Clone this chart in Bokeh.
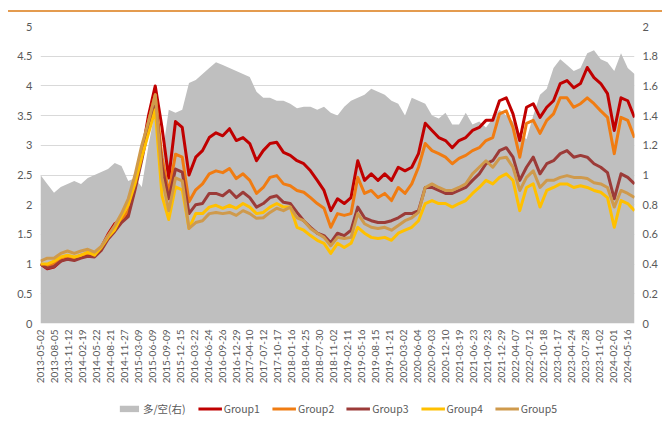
import math
import numpy as np
from bokeh.plotting import figure
from bokeh.models import (Range1d, LinearAxis, FixedTicker, NumeralTickFormatter,
                          Legend, LegendItem, Div, Spacer)
from bokeh.layouts import column, row
from bokeh.embed import file_html
from bokeh.resources import INLINE

# ---------------- data ----------------
tick_labels = [
    "2013-05-02", "2013-08-05", "2013-11-12", "2014-02-19", "2014-05-22", "2014-08-21",
    "2014-11-27", "2015-03-09", "2015-06-09", "2015-09-09", "2015-12-15", "2016-03-22",
    "2016-06-24", "2016-09-26", "2016-12-29", "2017-04-10", "2017-07-12", "2017-10-17",
    "2018-01-16", "2018-04-25", "2018-07-30", "2018-11-02", "2019-02-11", "2019-05-16",
    "2019-08-15", "2019-11-21", "2020-03-02", "2020-06-04", "2020-09-03", "2020-12-10",
    "2021-03-19", "2021-06-23", "2021-09-23", "2021-12-29", "2022-04-07", "2022-07-12",
    "2022-10-18", "2023-01-17", "2023-04-24", "2023-07-28", "2023-11-02", "2024-02-01",
    "2024-05-16",
]

# long/short ratio, right axis
long_short = [
    1.00, 0.94, 0.88, 0.92, 0.94, 0.96, 0.94, 0.98, 1.00, 1.02,
    1.04, 1.08, 1.06, 0.96, 0.98, 0.92, 1.20, 1.44, 1.12, 1.44,
    1.42, 1.44, 1.62, 1.64, 1.68, 1.72, 1.76, 1.74, 1.72, 1.70,
    1.68, 1.66, 1.56, 1.52, 1.52, 1.50, 1.50, 1.48, 1.45, 1.46,
    1.46, 1.44, 1.46, 1.42, 1.40, 1.46, 1.50, 1.52, 1.54, 1.58,
    1.56, 1.54, 1.50, 1.48, 1.40, 1.52, 1.50, 1.48, 1.40, 1.38,
    1.42, 1.34, 1.34, 1.42, 1.34, 1.36, 1.32, 1.38, 1.44, 1.40,
    1.36, 1.28, 1.24, 1.40, 1.54, 1.58, 1.72, 1.78, 1.74, 1.70,
    1.72, 1.82, 1.84, 1.78, 1.76, 1.70, 1.82, 1.72, 1.68,
]

group1 = [
    1.00, 0.92, 0.95, 1.05, 1.10, 1.08, 1.12, 1.15, 1.15, 1.28,
    1.50, 1.68, 1.75, 1.85, 2.30, 2.85, 3.50, 4.00, 3.30, 2.45,
    3.40, 3.30, 2.50, 2.80, 2.91, 3.13, 3.21, 3.16, 3.28, 3.08,
    3.13, 3.03, 2.74, 2.91, 3.03, 3.05, 2.88, 2.83, 2.74, 2.69,
    2.57, 2.41, 2.24, 1.90, 2.10, 2.02, 2.12, 2.74, 2.41, 2.52,
    2.41, 2.52, 2.41, 2.63, 2.57, 2.63, 2.86, 3.37, 3.25, 3.13,
    3.08, 2.96, 3.08, 3.13, 3.25, 3.30, 3.42, 3.42, 3.75, 3.80,
    3.53, 3.08, 3.64, 3.70, 3.47, 3.64, 3.75, 4.04, 4.09, 3.97,
    4.04, 4.31, 4.14, 4.04, 3.87, 3.25, 3.80, 3.75, 3.47,
]

group2 = [
    1.00, 0.97, 1.00, 1.10, 1.13, 1.10, 1.15, 1.18, 1.17, 1.27,
    1.45, 1.60, 1.75, 1.90, 2.30, 2.80, 3.40, 3.85, 2.80, 2.20,
    2.85, 2.80, 2.05, 2.25, 2.35, 2.52, 2.57, 2.54, 2.61, 2.44,
    2.52, 2.41, 2.19, 2.29, 2.46, 2.49, 2.35, 2.32, 2.24, 2.21,
    2.12, 2.02, 1.94, 1.62, 1.85, 1.82, 1.85, 2.46, 2.19, 2.24,
    2.12, 2.19, 2.07, 2.29, 2.19, 2.35, 2.63, 3.03, 2.91, 2.86,
    2.80, 2.69, 2.78, 2.83, 2.91, 2.96, 3.08, 3.13, 3.53, 3.58,
    3.30, 2.80, 3.37, 3.42, 3.20, 3.42, 3.53, 3.80, 3.80, 3.64,
    3.70, 3.80, 3.70, 3.58, 3.47, 2.86, 3.47, 3.42, 3.13,
]

group3 = [
    1.00, 0.93, 0.96, 1.05, 1.08, 1.06, 1.10, 1.13, 1.12, 1.23,
    1.42, 1.55, 1.70, 1.80, 2.25, 2.75, 3.30, 3.75, 2.65, 2.10,
    2.60, 2.55, 1.85, 2.00, 2.02, 2.19, 2.19, 2.15, 2.24, 2.12,
    2.21, 2.12, 1.96, 2.02, 2.12, 2.15, 2.04, 2.02, 1.87, 1.73,
    1.62, 1.52, 1.48, 1.36, 1.52, 1.48, 1.57, 1.96, 1.78, 1.73,
    1.70, 1.70, 1.73, 1.78, 1.85, 1.85, 1.90, 2.29, 2.29, 2.24,
    2.19, 2.19, 2.24, 2.29, 2.41, 2.52, 2.69, 2.74, 2.91, 2.96,
    2.80, 2.41, 2.63, 2.80, 2.52, 2.69, 2.74, 2.86, 2.91, 2.80,
    2.83, 2.80, 2.69, 2.63, 2.54, 2.10, 2.52, 2.46, 2.35,
]

group4 = [
    1.00, 1.00, 1.05, 1.12, 1.15, 1.12, 1.15, 1.20, 1.15, 1.28,
    1.45, 1.58, 1.80, 2.00, 2.35, 2.80, 3.20, 3.60, 2.15, 1.75,
    2.30, 2.25, 1.60, 1.85, 1.85, 1.96, 1.99, 1.94, 1.99, 1.94,
    2.02, 1.96, 1.85, 1.87, 1.96, 2.02, 1.96, 1.96, 1.62, 1.57,
    1.48, 1.40, 1.35, 1.18, 1.35, 1.28, 1.35, 1.62, 1.52, 1.45,
    1.43, 1.45, 1.40, 1.52, 1.57, 1.62, 1.73, 2.02, 2.07, 2.02,
    2.02, 1.96, 2.02, 2.07, 2.19, 2.29, 2.41, 2.35, 2.46, 2.52,
    2.41, 1.90, 2.29, 2.35, 1.96, 2.24, 2.29, 2.35, 2.35, 2.29,
    2.32, 2.29, 2.24, 2.21, 2.12, 1.62, 2.07, 2.02, 1.90,
]

group5 = [
    1.05, 1.10, 1.10, 1.18, 1.22, 1.18, 1.22, 1.25, 1.20, 1.30,
    1.48, 1.65, 1.85, 2.10, 2.50, 3.00, 3.40, 3.85, 2.45, 1.90,
    2.45, 2.40, 1.60, 1.70, 1.73, 1.85, 1.87, 1.85, 1.87, 1.82,
    1.90, 1.85, 1.77, 1.78, 1.87, 1.94, 1.90, 1.96, 1.78, 1.73,
    1.60, 1.52, 1.45, 1.31, 1.45, 1.43, 1.45, 1.85, 1.68, 1.62,
    1.60, 1.62, 1.57, 1.65, 1.73, 1.78, 1.87, 2.29, 2.35, 2.29,
    2.24, 2.24, 2.29, 2.35, 2.52, 2.63, 2.74, 2.63, 2.78, 2.80,
    2.63, 2.24, 2.46, 2.57, 2.29, 2.41, 2.41, 2.46, 2.49, 2.46,
    2.46, 2.44, 2.37, 2.35, 2.29, 1.96, 2.24, 2.19, 2.12,
]

series_names = ["Group1", "Group2", "Group3", "Group4", "Group5"]
series_colors = ["#C00000", "#F07C12", "#9C3B38", "#FFC000", "#CF9A4C"]
area_name = "多/空(右)"
area_color = "#BFBFBF"

# ---------------- layout constants ----------------
STEP = 29          # trading days between samples
LABEL_EVERY = 60   # trading days between axis labels

x = np.arange(len(group1)) * STEP
label_pos = [int(v) for v in np.arange(len(tick_labels)) * LABEL_EVERY]
all_series = [group1, group2, group3, group4, group5]

FONT = "Lato"
TXT = "#595959"

p = figure(frame_width=594, frame_height=297, output_backend="svg", toolbar_location=None,
           x_range=Range1d(float(x[0]), float(x[-1])), y_range=Range1d(0, 5),
           min_border_left=40, min_border_right=28, min_border_top=14,
           min_border_bottom=70)
p.outline_line_color = None
p.background_fill_color = "white"
p.border_fill_color = "white"

p.extra_y_ranges = {"right": Range1d(0, 2)}

p.varea(x=x, y1=0, y2=long_short, y_range_name="right",
        fill_color=area_color, fill_alpha=1.0)

for vals, col in zip(all_series, series_colors):
    p.line(x, vals, line_color=col, line_width=3, line_join="round")

# axes
left_ticks = [i * 0.5 for i in range(11)]
right_ticks = [round(i * 0.2, 1) for i in range(11)]

p.yaxis.ticker = FixedTicker(ticks=left_ticks)
p.yaxis.formatter = NumeralTickFormatter(format="0.[0]")

raxis = LinearAxis(y_range_name="right", ticker=FixedTicker(ticks=right_ticks),
                   formatter=NumeralTickFormatter(format="0.[0]"))
p.add_layout(raxis, "right")

p.xaxis.ticker = FixedTicker(ticks=label_pos)
p.xaxis.major_label_overrides = {pos: lab for pos, lab in zip(label_pos, tick_labels)}
p.xaxis.major_label_orientation = math.pi / 2

for ax in p.axis:
    ax.axis_line_color = None
    ax.major_tick_line_color = None
    ax.minor_tick_line_color = None
    ax.major_tick_out = 0
    ax.major_tick_in = 0
    ax.minor_tick_out = 0
    ax.minor_tick_in = 0
    ax.major_label_text_color = TXT
    ax.major_label_text_font = FONT
    ax.major_label_text_font_size = "11px"
    ax.major_label_standoff = 8
p.xaxis.major_label_text_font_size = "10px"
p.xaxis.major_label_standoff = 6

p.xgrid.visible = False
p.ygrid.ticker = FixedTicker(ticks=left_ticks)
p.ygrid.grid_line_color = "#D9D9D9"
p.ygrid.grid_line_width = 1

# ---------------- legend strip (separate small plot under the chart) ----------------
# Same series are drawn here, but the y-range is set far above the data so only
# the legend swatches are visible.
lg = figure(width=662, height=30, output_backend="svg", toolbar_location=None,
            x_range=Range1d(float(x[0]), float(x[-1])), y_range=Range1d(100, 101),
            x_axis_type=None, y_axis_type=None, min_border=0)
lg.outline_line_color = None
lg.background_fill_color = "white"
lg.border_fill_color = "white"

legend_area = lg.varea(x=x, y1=0, y2=long_short, fill_color=area_color, fill_alpha=1.0)
items = [LegendItem(label=area_name, renderers=[legend_area])]
for name, vals, col in zip(series_names, all_series, series_colors):
    r = lg.line(x, vals, line_color=col, line_width=3)
    items.append(LegendItem(label=name, renderers=[r]))

legend = Legend(items=items, orientation="horizontal", location="center",
                label_text_font="Noto Sans CJK SC", label_text_font_size="10.5px",
                label_text_color=TXT, glyph_width=24, glyph_height=8,
                label_standoff=2, spacing=12, padding=2, margin=0,
                border_line_color=None, background_fill_alpha=0)
lg.add_layout(legend)

# chart frame decoration: orange accent line above the chart
top_line = Div(width=654, height=2, margin=0, styles={"background-color": "#E49B4F"})
layout = column(Spacer(width=662, height=10, margin=0),
                row(Spacer(width=8, height=2, margin=0), top_line, margin=0),
                p, lg, margin=0)

with open("out.html", "w") as f:
    f.write(file_html(layout, INLINE))
